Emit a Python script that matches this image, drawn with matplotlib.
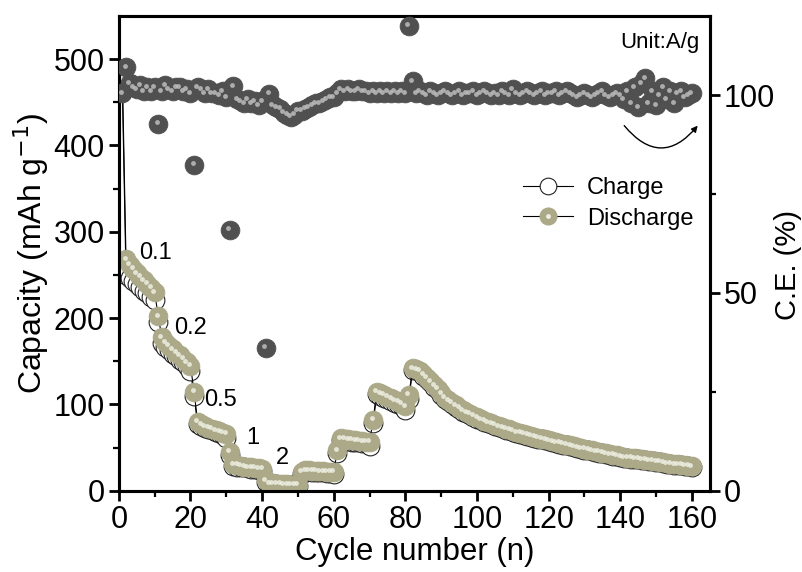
import numpy as np
import matplotlib
matplotlib.use("Agg")
import matplotlib.pyplot as plt
from matplotlib.lines import Line2D
import matplotlib.transforms as mtransforms

plt.rcParams['font.family'] = ['Liberation Sans', 'DejaVu Sans']

# ---------------- data ----------------
discharge = ([478, 268, 262, 257, 252, 248, 244, 240, 235, 230] +
             [202, 178, 172, 168, 164, 160, 157, 153, 149, 145] +
             [115, 80, 77, 75, 73, 72, 70, 69, 67, 66] +
             [45, 31, 30, 29, 28, 27.5, 27, 26.5, 26, 25.5] +
             [12, 9, 8.5, 8, 8, 7.5, 7.5, 7, 7, 7] +
             [22, 24, 23.5, 23, 23, 22.5, 22.5, 22, 22, 22] +
             [47, 61, 60, 59.5, 59, 58.5, 58, 57.5, 57, 57] +
             [82, 115, 113, 111, 109, 107, 105, 103, 101, 98] +
             [111,
              142, 141, 139, 135, 131, 127, 122, 118, 113, 108,
              105, 102, 99, 96, 93, 91, 89, 87, 85, 83,
              81, 79.5, 78, 76.5, 75, 73.5, 72, 71, 69.5, 68,
              67, 66, 65, 63.5, 62.5, 61.5, 60.5, 59.5, 58.5, 57.5,
              56.5, 55.5, 54.5, 53.5, 52.5, 51.5, 50.5, 49.5, 48.5, 47.5,
              47, 46, 45, 44, 43.5, 42.5, 41.5, 41, 40, 39,
              38.5, 38, 37.5, 37, 36.5, 36, 35.5, 35, 34, 33.5,
              33, 32, 31.5, 31, 30.5, 30, 29.5, 29, 28.5])

charge = ([462, 250, 247, 243, 239, 236, 232, 229, 225, 221] +
          [196, 171, 167, 163, 159, 156, 152, 149, 145, 139] +
          [110, 77, 75, 73, 71, 70, 68, 67, 65, 61] +
          [42, 29, 28, 27.5, 27, 26, 25.5, 25, 24.5, 23] +
          [10, 8, 7.5, 7.5, 7, 7, 6.5, 6.5, 6.5, 6] +
          [20, 23, 22.5, 22, 22, 21.5, 21.5, 21, 21, 20] +
          [44, 59, 58, 57.5, 57, 56.5, 56, 55.5, 55, 52] +
          [78, 112, 110, 108, 106, 104, 102, 100, 98, 93] +
          [106,
           140, 139.5, 137.5, 133.5, 129.5, 125.5, 120.5, 116.5, 111.5, 106.5,
           103.5, 100.5, 97.5, 94.5, 91.7, 89.7, 87.7, 85.7, 83.7, 81.8,
           79.8, 78.3, 76.8, 75.3, 73.9, 72.4, 70.9, 69.9, 68.4, 66.9,
           65.9, 64.9, 63.9, 62.5, 61.5, 60.5, 59.5, 58.5, 57.5, 56.5,
           55.5, 54.6, 53.6, 52.6, 51.6, 50.6, 49.6, 48.6, 47.7, 46.7,
           46.2, 45.2, 44.2, 43.2, 42.7, 41.7, 40.8, 40.3, 39.3, 38.3,
           37.8, 37.3, 36.8, 36.3, 35.8, 35.3, 34.8, 34.3, 33.4, 32.9,
           32.4, 31.4, 30.9, 30.4, 29.9, 29.4, 28.9, 28.4, 27.9])

ce = ([100.5, 107, 103, 102, 101.5, 102.5, 101, 102, 101, 102] +
      [92.8, 101, 102.5, 101.5, 101, 102, 102, 101, 101.5, 100.5] +
      [82.4, 102, 101.5, 100.5, 101.5, 100.5, 100.5, 100, 101, 99.5] +
      [66, 102.3, 99, 98.5, 98, 99, 98, 98.5, 97.5, 98.5] +
      [36.2, 100.4, 97.5, 97, 96.5, 95.5, 95, 94.5, 95, 96] +
      [96, 96.5, 97, 97.5, 98, 98, 98.5, 99, 99.5, 99.5] +
      [100.5, 101.5, 101, 101.5, 101, 101, 101.5, 101, 101, 100.5] +
      [101, 100.5, 101, 100.5, 101, 100.5, 101, 100.5, 101, 100.5] +
      [117.5, 103.5,
       100.5, 101, 100.5, 100, 101, 100.5, 100, 100.5, 101, 100.5,
       100, 100.5, 101, 100, 100.5, 100.5, 101, 100, 100.5, 101,
       100.5, 100, 100.5, 100, 101, 100.5, 100, 101.5, 100.5, 100,
       100.5, 101, 100.5, 100, 100.5, 101, 100, 100.5, 100.5, 101,
       100, 100.5, 101, 100.5, 100, 99.5, 100, 100.5, 100, 99.5,
       100, 100.5, 101, 100, 99.5, 100, 100.5, 100,
       99, 101, 98, 102, 97, 103, 104.3, 98, 101, 97.5,
       100, 102, 99, 101, 98, 100.5, 101, 99.5, 100, 100.5])

cycles = np.arange(1, len(discharge) + 1)

rate_labels = ["0.1", "0.2", "0.5", "1", "2"]
rate_label_x = [10.2, 20.0, 28.4, 37.3, 45.8]
rate_label_y = [275, 188, 105, 61, 37.6]

# ---------------- style ----------------
DIS_C = '#aba987'
DIS_HI = '#eeeee2'
CE_C = '#505050'
CE_HI = '#bdbdbd'
MS = 13.5

fig = plt.figure(figsize=(8.03, 5.72), dpi=100)
ax = fig.add_axes([0.148, 0.142, 0.736, 0.830])
ax2 = ax.twinx()

hi_off = mtransforms.offset_copy(ax.transData, fig=fig, x=-1.5, y=1.5, units='dots')
hi_off2 = mtransforms.offset_copy(ax2.transData, fig=fig, x=-1.5, y=1.5, units='dots')

# charge (open)
ax.plot(cycles, charge, '-', color='black', lw=0.8, marker='o', ms=MS,
        mfc='white', mec='#222222', mew=0.8, zorder=2)
# discharge (filled)
ax.plot(cycles, discharge, '-', color='black', lw=0.8, marker='o', ms=MS,
        mfc=DIS_C, mec=DIS_C, mew=0.6, zorder=3)
ax.plot(cycles, discharge, 'o', ms=3.5, mfc=DIS_HI, mec='none', alpha=0.85,
        transform=hi_off, zorder=4)

# coulombic efficiency
ax2.plot(cycles, ce, 'o', ms=MS, mfc=CE_C, mec=CE_C, mew=0.6, zorder=3)
ax2.plot(cycles, ce, 'o', ms=3.5, mfc=CE_HI, mec='none', alpha=0.85,
         transform=hi_off2, zorder=4)

# axes limits and ticks
ax.set_xlim(0, 165)
ax.set_ylim(0, 550)
ax2.set_ylim(0, 120)
ax.set_xticks(np.arange(0, 161, 20))
ax.set_xticks(np.arange(10, 165, 20), minor=True)
ax.set_yticks(np.arange(0, 501, 100))
ax.set_yticks(np.arange(50, 550, 100), minor=True)
ax2.set_yticks([0, 50, 100])
ax2.set_yticks([25, 75], minor=True)

for a in (ax, ax2):
    for s in a.spines.values():
        s.set_linewidth(2.2)
    a.tick_params(which='major', direction='out', length=7, width=2,
                  labelsize=22, pad=3)
    a.tick_params(which='minor', direction='out', length=4, width=1.6)
ax.tick_params(axis='x', which='both', top=False)
ax.tick_params(axis='y', which='both', right=False)
ax2.tick_params(axis='y', which='both', left=False)

ax.set_xlabel('Cycle number (n)', fontsize=22.5, labelpad=2)
ax.set_ylabel('Capacity (mAh g$^{-1}$)', fontsize=23, labelpad=2)
ax2.set_ylabel('C.E. (%)', fontsize=21)
ax2.yaxis.set_label_coords(1.108, 0.475)

for t, x, y in zip(rate_labels, rate_label_x, rate_label_y):
    ax.text(x, y, t, fontsize=17, ha='center', va='center', zorder=6)

ax.text(0.983, 0.945, 'Unit:A/g', transform=ax.transAxes, fontsize=16,
        ha='right', va='center')

ax2.annotate('', xy=(161.6, 423 * 120 / 550), xytext=(141.1, 423 * 120 / 550),
             arrowprops=dict(arrowstyle='-|>', connectionstyle='arc3,rad=0.6',
                             color='black', lw=1.0, mutation_scale=9,
                             shrinkA=0, shrinkB=0))

h_ch = Line2D([], [], color='black', lw=0.8, marker='o', ms=12, mfc='white',
              mec='#222222', mew=0.8)
h_dis = Line2D([], [], color='black', lw=0.8, marker='o', ms=12, mfc=DIS_C,
               mec=DIS_C)
h_dis_hi = Line2D([], [], ls='none', marker='o', ms=3.5, mfc=DIS_HI, mec='none')
leg = ax2.legend([h_ch, (h_dis, h_dis_hi)], ['Charge', 'Discharge'],
                 loc='upper left', bbox_to_anchor=(523 / 803, 1 - 177 / 572),
                 bbox_transform=fig.transFigure, frameon=False, fontsize=17,
                 handlelength=2.1, handletextpad=0.6, labelspacing=0.37,
                 borderpad=0, borderaxespad=0)

fig.savefig('out.png', dpi=100)
